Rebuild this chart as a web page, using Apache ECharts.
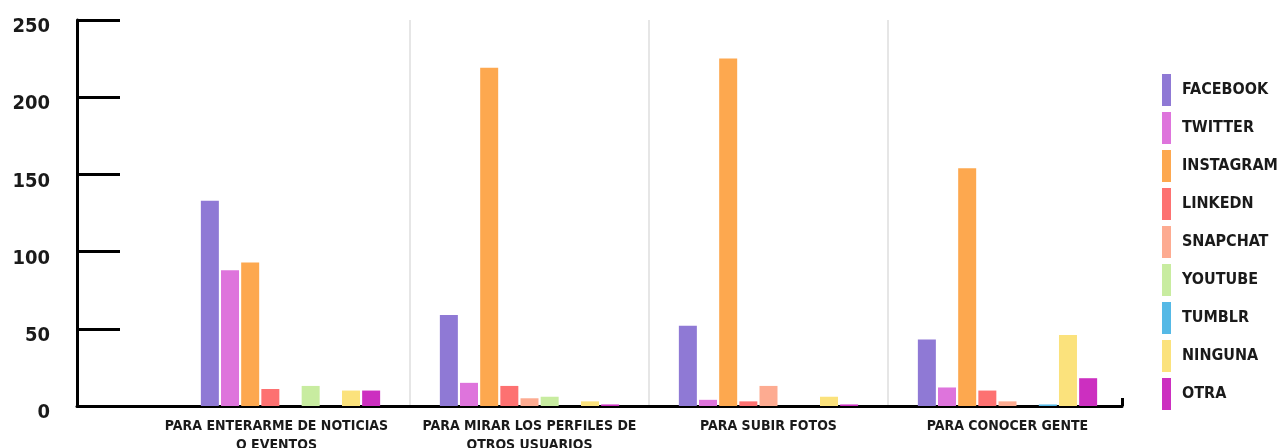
<!DOCTYPE html>
<html><head><meta charset="utf-8">
<script src="https://cdn.jsdelivr.net/npm/echarts@6/dist/echarts.min.js"></script>
<style>html,body{margin:0;padding:0;background:#fff}#c{width:1283px;height:448px}</style>
</head><body><div id="c"></div>
<script>
const categories = ['PARA ENTERARME DE NOTICIAS\nO EVENTOS', 'PARA MIRAR LOS PERFILES DE\nOTROS USUARIOS', 'PARA SUBIR FOTOS', 'PARA CONOCER GENTE'];
const seriesNames = ['FACEBOOK','TWITTER','INSTAGRAM','LINKEDN','SNAPCHAT','YOUTUBE','TUMBLR','NINGUNA','OTRA'];
const facebook  = [133, 59, 52, 43];
const twitter   = [88, 15, 4, 12];
const instagram = [93, 219, 225, 154];
const linkedin  = [11, 13, 3, 10];
const snapchat  = [0, 5, 13, 3];
const youtube   = [13, 6, 0, 0];
const tumblr    = [0, 0, 0, 1];
const ninguna   = [10, 3, 6, 46];
const otra      = [10, 1, 1, 18];
const yTicks = [0, 50, 100, 150, 200, 250];
const colors = ['#8f79d5','#de74dc','#fda84f','#fd7171','#fdab91','#c8eca0','#55b9e6','#fbe27c','#cc2fc0'];
const allData = [facebook, twitter, instagram, linkedin, snapchat, youtube, tumblr, ninguna, otra];

const FONT = '"DejaVu Sans Condensed", "Liberation Sans Narrow", "DejaVu Sans", sans-serif';
const chart = echarts.init(document.getElementById('c'), null, {renderer:'canvas'});
chart.setOption({
  animation: false,
  backgroundColor: '#fff',
  color: colors,
  grid: [
    {left: 171, right: 156, top: 20, bottom: 42, containLabel: false, outerBoundsMode: 'none'},
    {left: 77, right: 161, top: 20, bottom: 42, containLabel: false, outerBoundsMode: 'none'}
  ],
  legend: {
    orient: 'vertical', left: 1162, top: 74, padding: 0,
    itemWidth: 9, itemHeight: 32, itemGap: 6,
    icon: 'rect',
    data: seriesNames,
    textStyle: {fontFamily: FONT, fontWeight: 'bold', fontSize: 16, color: '#1a1a1a', padding: [0,0,0,6]}
  },
  xAxis: [
    {
      type: 'category', gridIndex: 0, data: categories,
      axisLine: {show: false}, axisTick: {show: false},
      axisLabel: {fontFamily: FONT, fontWeight: 'bold', fontSize: 14, color: '#1a1a1a', lineHeight: 19, margin: 11, interval: 0,
        formatter: (v, i) => i === 0 ? v.split('\n').map(s => '{s|' + s + '}').join('\n') : v,
        rich: {s: {fontFamily: FONT, fontWeight: 'bold', fontSize: 14, color: '#1a1a1a', lineHeight: 19, padding: [0, 28, 0, 0]}}},
      splitLine: {show: true, showMinLine: false, showMaxLine: false, lineStyle: {color: '#e6e6e6', width: 2}}
    },
    {
      type: 'value', gridIndex: 1, min: 0, max: 1, interval: 1,
      axisLine: {show: true, lineStyle: {color: '#000', width: 3}},
      axisTick: {show: true, inside: true, length: 8, lineStyle: {color: '#000', width: 3}},
      axisLabel: {show: false}, splitLine: {show: false}
    }
  ],
  yAxis: [
    {
      type: 'value', gridIndex: 0, min: 0, max: 250, interval: 50,
      offset: 94,
      axisLine: {show: true, lineStyle: {color: '#000', width: 3}},
      axisTick: {show: true, inside: true, length: 43, lineStyle: {color: '#000', width: 3}},
      axisLabel: {fontFamily: FONT, fontWeight: 'bold', fontSize: 20, color: '#1a1a1a', margin: 27,
        verticalAlign: 'top', lineHeight: 14,
        formatter: v => yTicks.includes(v) ? String(v) : ''},
      splitLine: {show: false}
    },
    {type: 'value', gridIndex: 1, show: false, min: 0, max: 1}
  ],
  series: seriesNames.map((name, i) => ({
    name, type: 'bar', xAxisIndex: 0, yAxisIndex: 0,
    data: allData[i], barWidth: 18, barGap: '12%',
    itemStyle: {color: colors[i]}
  }))
});
</script></body></html>
